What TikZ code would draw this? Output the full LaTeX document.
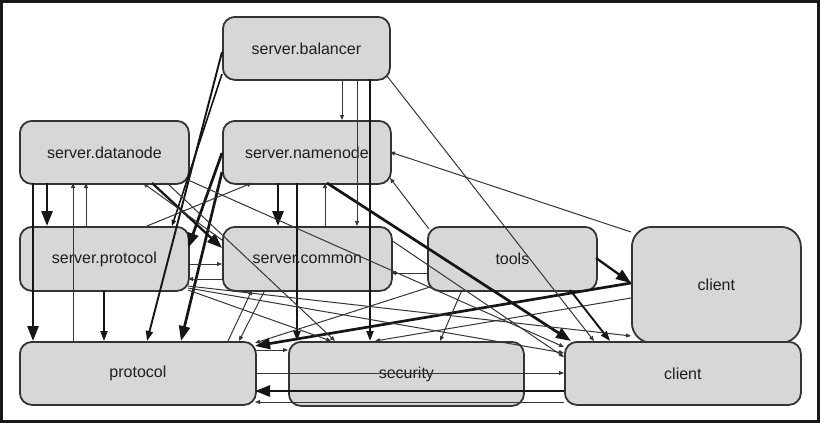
\documentclass[tikz,border=0pt]{standalone}
\usepackage{fontspec}
\setmainfont{Liberation Sans}
\usetikzlibrary{arrows.meta,calc}
\definecolor{boxfill}{HTML}{D6D7D9}
\definecolor{boxline}{HTML}{333333}
\definecolor{lin}{HTML}{363636}
\definecolor{thk}{HTML}{151515}
\definecolor{txt}{HTML}{1E1E1E}
\begin{document}
\begin{tikzpicture}[x=1pt,y=-1pt,
  box/.style={draw=boxline, line width=1.8pt, fill=boxfill, rounded corners=12pt, anchor=north west, inner sep=0pt, font=\fontsize{16}{19}\selectfont, text=txt},
  ethin/.style={draw=lin, line width=1pt, -{Triangle[length=5pt,width=4pt]}},
  emed/.style={draw=thk, line width=1.9pt, -{Triangle[length=10pt,width=7pt]}},
  ethick/.style={draw=thk, line width=2.7pt, -{Triangle[length=15pt,width=11pt]}},
  frame/.style={draw=black!90, line width=3pt}]
\useasboundingbox (0,0) rectangle (820,423);
\fill[white] (0,0) rectangle (820,423);
\draw[frame] (1.5,1.5) rectangle (818.5,421.5);

% nodes
\node[box, minimum width=167pt, minimum height=63pt] (bal) at (222,16) {server.balancer};
\node[box, minimum width=169pt, minimum height=63pt] (dn) at (19,120) {server.datanode};
\node[box, minimum width=168pt, minimum height=63pt] (nn) at (222,120) {server.namenode};
\node[box, minimum width=169pt, minimum height=64pt] (sp) at (19,226) {server.protocol};
\node[box, minimum width=169pt, minimum height=64pt] (sc) at (222,226) {server.common};
\node[box, minimum width=169pt, minimum height=64pt] (tools) at (427,226) {tools};
\node[box, minimum width=169pt, minimum height=116pt, rounded corners=20pt] (cl1) at (631,226) {client};
\node[box, minimum width=236pt, minimum height=63pt] (prot) at (19,341) {protocol};
\node[box, minimum width=235pt, minimum height=64pt] (sec) at (288,341) {security};
\node[box, minimum width=236pt, minimum height=63pt] (cl2) at (564,341) {client};

% thick connectors
\draw[ethick] ($(dn.north west)+(14,63)$) -- ($(prot.north west)+(14,0)$);
\draw[ethick] ($(dn.north west)+(28,63)$) -- ($(sp.north west)+(28,0)$);
\draw[ethick] ($(nn.north west)+(56,63)$) -- ($(sc.north west)+(56,0)$);
\draw[ethick] ($(nn.north west)+(0,33)$) -- ($(sp.north west)+(169,22)$);
\draw[ethick] ($(nn.north west)+(0,52)$) -- ($(prot.north west)+(162,0)$);
\draw[ethick, line width=2.3pt] ($(dn.north west)+(133,63)$) -- ($(sc.north west)+(0,22)$);
\draw[ethick] ($(nn.north west)+(105,63)$) -- ($(cl2.north west)+(7,0)$);
\draw[ethick, line width=2.3pt] ($(tools.north west)+(169,32)$) -- ($(cl1.north west)+(0,57)$);
\draw[ethick] ($(cl1.north west)+(0,57)$) -- ($(prot.north west)+(236,5)$);
\draw[ethick] ($(cl2.north west)+(0,50)$) -- ($(prot.north west)+(236,50)$);

% medium connectors
\draw[emed] ($(sp.north west)+(85,64)$) -- ($(prot.north west)+(85,0)$);
\draw[emed] ($(bal.north west)+(0,36)$) -- ($(prot.north west)+(128,0)$);
\draw[emed] ($(bal.north west)+(148,63)$) -- ($(sec.north west)+(82,0)$);
\draw[emed] ($(nn.north west)+(75,63)$) -- ($(sec.north west)+(9,0)$);
\draw[emed] ($(tools.north west)+(143,64)$) -- ($(cl2.north west)+(46,0)$);
\draw[emed, line width=1.6pt, -{Triangle[length=6pt,width=4.5pt]}] ($(bal.north west)+(0,58)$) -- ($(sp.north west)+(153,0)$);

% thin connectors
\draw[ethin] ($(prot.north west)+(54,0)$) -- ($(dn.north west)+(54,63)$);
\draw[ethin] ($(sp.north west)+(67,0)$) -- ($(dn.north west)+(67,63)$);
\draw[ethin] ($(bal.north west)+(120,63)$) -- ($(nn.north west)+(120,0)$);
\draw[ethin] ($(bal.north west)+(135,63)$) -- ($(sc.north west)+(135,0)$);
\draw[ethin] ($(sc.north west)+(103,0)$) -- ($(nn.north west)+(103,63)$);
\draw[ethin] ($(bal.north west)+(165,60)$) -- ($(cl2.north west)+(30,0)$);
\draw[ethin] ($(cl1.north west)+(0,6)$) -- ($(nn.north west)+(168,32)$);
\draw[ethin] ($(tools.north west)+(2,3)$) -- ($(nn.north west)+(168,58)$);
\draw[ethin] ($(tools.north west)+(0,47)$) -- ($(sc.north west)+(169,47)$);
\draw[ethin] ($(sp.north west)+(128,0)$) -- ($(nn.north west)+(30,63)$);
\draw[ethin] ($(sc.north west)+(0,14)$) -- ($(dn.north west)+(124,63)$);
\draw[ethin] ($(dn.north west)+(169,60)$) -- ($(cl2.north west)+(0,6)$);
\draw[ethin] ($(dn.north west)+(148,63)$) -- ($(sec.north west)+(47,0)$);
\draw[ethin] ($(sp.north west)+(169,38)$) -- ($(sc.north west)+(0,38)$);
\draw[ethin] ($(sc.north west)+(0,53)$) -- ($(sp.north west)+(169,53)$);
\draw[ethin] ($(tools.north west)+(3,61)$) -- ($(prot.north west)+(236,2)$);
\draw[ethin] ($(cl1.north west)+(0,72)$) -- ($(sec.north west)+(87,0)$);
\draw[ethin] ($(tools.north west)+(35,64)$) -- ($(sec.north west)+(152,0)$);
\draw[ethin] ($(prot.north west)+(209,0)$) -- ($(sc.north west)+(30,64)$);
\draw[ethin] ($(sc.north west)+(43,64)$) -- ($(prot.north west)+(220,0)$);
\draw[ethin] ($(prot.north west)+(236,9)$) -- ($(sec.north west)+(0,9)$);
\draw[ethin] ($(prot.north west)+(236,32)$) -- ($(cl2.north west)+(0,32)$);
\draw[ethin] ($(cl2.north west)+(0,61)$) -- ($(prot.north west)+(236,61)$);
\draw[ethin] ($(sp.north west)+(169,60)$) -- ($(cl1.north west)+(0,110)$);
\draw[ethin] ($(sp.north west)+(169,62)$) -- ($(cl2.north west)+(0,12)$);
\draw[ethin] ($(sc.north west)+(169,14)$) -- ($(cl2.north west)+(0,16)$);
\draw[ethin] ($(sp.north west)+(169,64)$) -- ($(sec.north west)+(43,0)$);
\end{tikzpicture}
\end{document}
